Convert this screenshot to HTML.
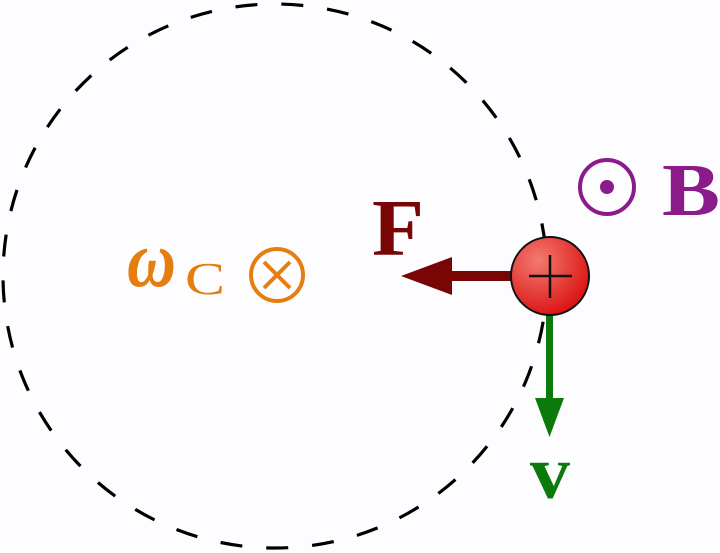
<!DOCTYPE html>
<html><head><style>
html,body{margin:0;padding:0;background:#fdfdff;}
svg{display:block;}
</style></head><body>
<svg width="720" height="553" viewBox="0 0 720 553" xmlns="http://www.w3.org/2000/svg">
<defs>
<radialGradient id="rg" cx="0.35" cy="0.3" r="0.8">
<stop offset="0" stop-color="#f47a70"/>
<stop offset="1" stop-color="#d80a0a"/>
</radialGradient>
</defs>
<rect width="720" height="553" fill="#fdfdff"/>
<circle cx="275" cy="276" r="272" fill="none" stroke="#000" stroke-width="3.2" stroke-dasharray="22 24"/>
<!-- F arrow -->
<rect x="448" y="271" width="65" height="10" fill="#7a0505"/>
<polygon points="401,276 452,257 452,295" fill="#7a0505"/>
<text x="372" y="255" font-family="Liberation Serif, serif" font-weight="bold" font-size="80" textLength="52" lengthAdjust="spacingAndGlyphs" fill="#7a0505">F</text>
<!-- v arrow -->
<rect x="546" y="312" width="7" height="90" fill="#0b7a0b"/>
<polygon points="549.5,437 535,398 564,398" fill="#0b7a0b"/>
<text x="530" y="498" font-family="Liberation Serif, serif" font-weight="bold" font-size="76" textLength="40" lengthAdjust="spacingAndGlyphs" fill="#0b7a0b">v</text>
<!-- particle -->
<circle cx="550" cy="276" r="39" fill="url(#rg)" stroke="#111" stroke-width="2"/>
<line x1="529" y1="276" x2="572" y2="276" stroke="#111" stroke-width="2.5"/>
<line x1="550" y1="255" x2="550" y2="298" stroke="#111" stroke-width="2.5"/>
<!-- B -->
<circle cx="607" cy="187" r="27" fill="none" stroke="#8b1a8b" stroke-width="4"/>
<circle cx="607" cy="187" r="7" fill="#8b1a8b"/>
<text x="662" y="215" font-family="Liberation Serif, serif" font-weight="bold" font-size="74" textLength="58" lengthAdjust="spacingAndGlyphs" fill="#8b1a8b">B</text>
<!-- omega_C -->
<text x="127" y="286" font-family="Liberation Serif, serif" font-weight="bold" font-style="italic" font-size="80" textLength="49" lengthAdjust="spacingAndGlyphs" fill="#e67d0f">ω</text>
<text x="185" y="294" font-family="Liberation Serif, serif" font-size="46" textLength="40" lengthAdjust="spacingAndGlyphs" fill="#e67d0f">C</text>
<circle cx="277" cy="275" r="26" fill="none" stroke="#e67d0f" stroke-width="4"/>
<line x1="264" y1="262" x2="290" y2="288" stroke="#e67d0f" stroke-width="4"/>
<line x1="290" y1="262" x2="264" y2="288" stroke="#e67d0f" stroke-width="4"/>
</svg>
</body></html>
